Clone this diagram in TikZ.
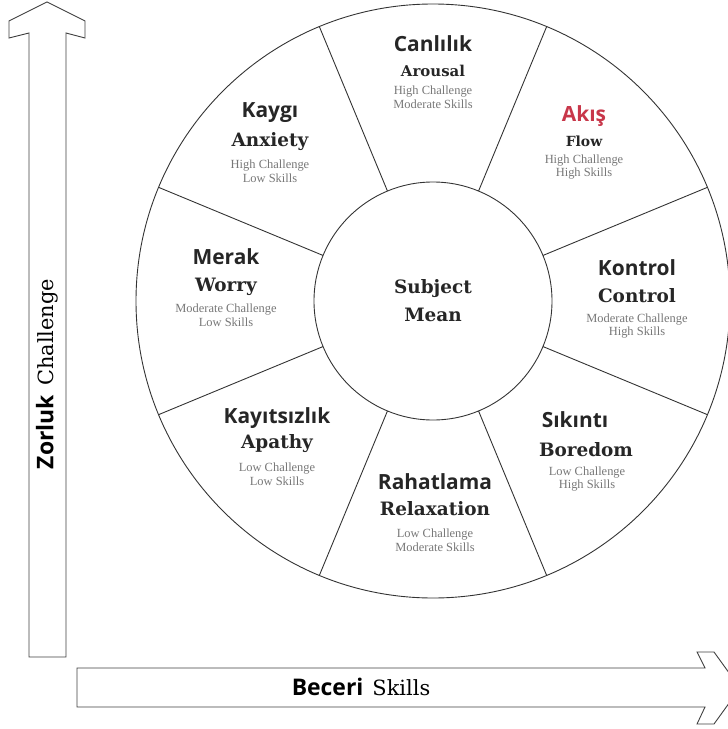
\documentclass[tikz,border=0pt]{standalone}
\usepackage{fontspec}
\setmainfont{DejaVu Serif}
\newfontfamily\trsans{Open Sans}
\newfontfamily\noteserif{Liberation Serif}
\usepackage{tikz}
\usetikzlibrary{calc}
\definecolor{akisred}{HTML}{C8374A}
\definecolor{notegray}{HTML}{777777}
\tikzset{
    every node/.style={inner sep=0pt},
    trname/.style={font=\trsans\bfseries\fontsize{21}{24}\selectfont,text=black!85},
    enname/.style={font=\bfseries\fontsize{18.5}{22}\selectfont,text=black!85},
    ensmall/.style={font=\bfseries\fontsize{15}{17}\selectfont,text=black!85},
    note/.style={font=\noteserif\fontsize{12.5}{14}\selectfont,text=notegray,align=center},
    wheel/.style={draw=black!80,line width=0.9pt},
    bigarrow/.style={draw=black!75,line width=0.9pt,fill=white}
}

\begin{document}
\begin{tikzpicture}[x=1bp,y=-1bp]
\useasboundingbox (0,0) rectangle (728,729);
\coordinate (c) at (433,301);

% axes
\draw[bigarrow] (29,657) -- (29,33) -- (9,38) -- (9,21) -- (47,2) -- (85,21) -- (85,38) -- (66,33) -- (66,657) -- cycle;
\draw[bigarrow] (77,668) -- (705,668) -- (697,652) -- (714,652) -- (740,688) -- (714,724) -- (697,724) -- (705,707) -- (77,707) -- cycle;
\node[rotate=90] (challenge) at (47,374) {{\trsans\bfseries\fontsize{23}{26}\selectfont Zorluk}\hspace{9bp}{\fontsize{21}{24}\selectfont Challenge}};
\node (skills) at (361,687) {{\trsans\bfseries\fontsize{23}{26}\selectfont Beceri}\hspace{9bp}{\fontsize{21}{24}\selectfont Skills}};

% wheel
\draw[wheel] (c) circle[radius=297];
\draw[wheel] (c) circle[radius=119];
\foreach \a in {22.5,67.5,...,337.5}{
    \draw[wheel] ($(c)+(\a:119)$) -- ($(c)+(\a:297)$);
}
\node[enname,align=center,font=\bfseries\fontsize{18.5}{28}\selectfont] (subject) at (c) {Subject\\Mean};

% sectors
\node[trname] (canlilik) at (433,44) {Canlılık};
\node[ensmall] (arousal) at (433,71) {Arousal};
\node[note] (canliliknote) at (433,97) {High Challenge\\Moderate Skills};

\node[trname,text=akisred] (akis) at (584,116) {Akış};
\node[ensmall,font=\bfseries\fontsize{14}{16}\selectfont] (flow) at (584,141) {Flow};
\node[note] (akisnote) at (584,167) {High Challenge\\High Skills};

\node[trname] (kaygi) at (270,113) {Kaygı};
\node[enname] (anxiety) at (270,142) {Anxiety};
\node[note] (kayginote) at (270,171) {High Challenge\\Low Skills};

\node[trname] (merak) at (226,257) {Merak};
\node[enname] (worry) at (226,287) {Worry};
\node[note] (meraknote) at (226,315) {Moderate Challenge\\Low Skills};

\node[trname] (kontrol) at (637,268) {Kontrol};
\node[enname] (control) at (637,296) {Control};
\node[note] (kontrolnote) at (637,326) {Moderate Challenge\\High Skills};

\node[trname] (kayitsizlik) at (277,418) {Kayıtsızlık};
\node[enname] (apathy) at (277,444) {Apathy};
\node[note] (kayitsizliknote) at (277,474) {Low Challenge\\Low Skills};

\node[trname] (rahatlama) at (435,482) {Rahatlama};
\node[enname] (relaxation) at (435,509) {Relaxation};
\node[note] (rahatlamanote) at (435,540) {Low Challenge\\Moderate Skills};

\node[trname] (sikinti) at (575,420) {Sıkıntı};
\node[enname] (boredom) at (586,450) {Boredom};
\node[note] (sikintinote) at (587,479) {Low Challenge\\High Skills};
\end{tikzpicture}
\end{document}
